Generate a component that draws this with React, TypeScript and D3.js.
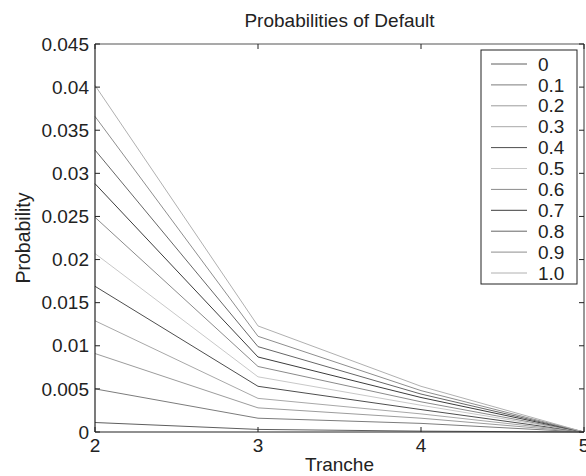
import React from "react";
import * as d3 from "d3";

const tranches = [2, 3, 4, 5];
const seriesLabels = ["0", "0.1", "0.2", "0.3", "0.4", "0.5", "0.6", "0.7", "0.8", "0.9", "1.0"];
const s00 = [0.0011, 0.0003, 0.0001, 0];
const s01 = [0.0050, 0.0016, 0.0010, 0];
const s02 = [0.0091, 0.0028, 0.0016, 0];
const s03 = [0.0129, 0.0039, 0.0021, 0];
const s04 = [0.0169, 0.0053, 0.0026, 0];
const s05 = [0.0207, 0.0064, 0.0031, 0];
const s06 = [0.0249, 0.0076, 0.0035, 0];
const s07 = [0.0288, 0.0087, 0.0040, 0];
const s08 = [0.0327, 0.0099, 0.0044, 0];
const s09 = [0.0366, 0.0111, 0.0048, 0];
const s10 = [0.0402, 0.0123, 0.0053, 0];
const seriesValues = [s00, s01, s02, s03, s04, s05, s06, s07, s08, s09, s10];
const seriesColors = ["#5e5e5e", "#7c7c7c", "#9c9c9c", "#a8a8a8", "#4e4e4e", "#c8c8c8", "#8a8a8a", "#3c3c3c", "#666666", "#8e8e8e", "#b0b0b0"];
const yTicks = [0, 0.005, 0.01, 0.015, 0.02, 0.025, 0.03, 0.035, 0.04, 0.045];
const yTickLabels = ["0", "0.005", "0.01", "0.015", "0.02", "0.025", "0.03", "0.035", "0.04", "0.045"];
const xTicks = [2, 3, 4, 5];

const W = 586, H = 476;
const L = 95, R = 584, T = 44, B = 432;
const FONT = "'Liberation Sans', Arial, Helvetica, sans-serif";

export default function App() {
  const x = d3.scaleLinear().domain([2, 5]).range([L, R]);
  const y = d3.scaleLinear().domain([0, 0.045]).range([B, T]);
  const line = d3.line<number>().x((_, i) => x(tranches[i])).y((d) => y(d));
  const tl = 5;
  const legX = 481, legY = 50, legW = 96, legRow = 20.9;
  return (
    <svg width={W} height={H} style={{ position: "absolute", left: 0, top: 0, background: "#fff" }} fontFamily={FONT}>
      <rect x={0} y={0} width={W} height={H} fill="#fff" />
      {seriesValues.map((s, i) => (
        <path key={i} d={line(s) || ""} fill="none" stroke={seriesColors[i]} strokeWidth={1} />
      ))}
      {/* box */}
      <line x1={L} x2={R} y1={T} y2={T} stroke="#555" strokeWidth={1.2} />
      <line x1={R} x2={R} y1={T} y2={B} stroke="#333" strokeWidth={1} />
      <line x1={L} x2={L} y1={T} y2={B} stroke="#222" strokeWidth={1.2} />
      <line x1={L} x2={R} y1={B} y2={B} stroke="#222" strokeWidth={1.2} />
      {yTicks.map((t, i) => (
        <g key={"y" + i}>
          <line x1={L} x2={L + tl} y1={y(t)} y2={y(t)} stroke="#222" />
          <line x1={R} x2={R - tl} y1={y(t)} y2={y(t)} stroke="#222" />
          <text x={L - 6} y={y(t)} dy="0.35em" textAnchor="end" fontSize={19} fill="#222">{yTickLabels[i]}</text>
        </g>
      ))}
      {xTicks.map((t, i) => (
        <g key={"x" + i}>
          <line x1={x(t)} x2={x(t)} y1={B} y2={B - tl} stroke="#222" />
          <line x1={x(t)} x2={x(t)} y1={T} y2={T + tl} stroke="#222" />
          <text x={x(t)} y={B + 20} textAnchor="middle" fontSize={19} fill="#222">{String(t)}</text>
        </g>
      ))}
      <text x={(L + R) / 2} y={27} textAnchor="middle" fontSize={19} fill="#222">Probabilities of Default</text>
      <text x={(L + R) / 2} y={471} textAnchor="middle" fontSize={19} fill="#222">Tranche</text>
      <text transform={`translate(30,${(T + B) / 2}) rotate(-90)`} textAnchor="middle" fontSize={19.5} fill="#222">Probability</text>
      {/* legend */}
      <rect x={legX} y={legY} width={legW} height={234} fill="#fff" stroke="#222" strokeWidth={1} />
      {seriesLabels.map((lab, i) => {
        const cy = legY + 14 + i * legRow;
        return (
          <g key={"l" + i}>
            <line x1={legX + 10} x2={legX + 46} y1={cy} y2={cy} stroke={seriesColors[i]} strokeWidth={1} />
            <text x={legX + 57} y={cy} dy="0.35em" fontSize={19} fill="#222">{lab}</text>
          </g>
        );
      })}
    </svg>
  );
}
